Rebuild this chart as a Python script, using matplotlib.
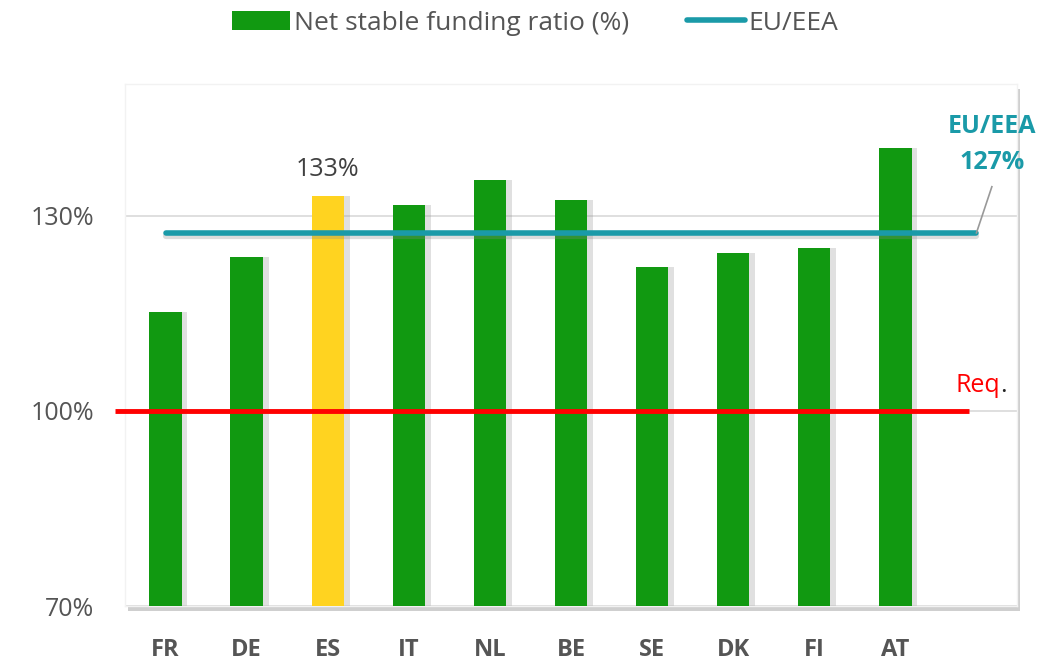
import matplotlib
matplotlib.use("Agg")
import matplotlib.pyplot as plt
from matplotlib.patches import Rectangle
from matplotlib.lines import Line2D
from matplotlib.patches import Patch

plt.rcParams['font.family'] = ['Open Sans', 'DejaVu Sans']

countries = ["FR", "DE", "ES", "IT", "NL", "BE", "SE", "DK", "FI", "AT"]
nsfr = [115.2, 123.7, 133.1, 131.7, 135.5, 132.5, 122.2, 124.3, 125.1, 140.5]
eu_eea = 127.4
requirement = 100
yticks = [70, 100, 130]
ytick_labels = ["70%", "100%", "130%"]

GREEN = "#119911"
YELLOW = "#FFD320"
RED = "#FF0000"
TEAL = "#1A9AA8"
GREY = "#555555"

fig = plt.figure(figsize=(10.59, 6.63), dpi=100)
ax = fig.add_axes([125/1059, 57/663, 892/1059, 522/663])

# plot-area shadow
fig.patches.append(Rectangle((128/1059, 52/663), 892/1059, 522/663, transform=fig.transFigure,
                             facecolor="#b0b0b0", edgecolor="none", alpha=0.6, zorder=-1))

x = list(range(len(countries)))
colors = [YELLOW if c == "ES" else GREEN for c in countries]
# bar shadows
ax.bar([i + 0.07 for i in x], [v - 70 for v in nsfr], bottom=70, width=0.4, color="#999999",
       alpha=0.3, zorder=2, linewidth=0)
ax.bar(x, [v - 70 for v in nsfr], bottom=70, width=0.4, color=colors, zorder=3, linewidth=0)

ax.set_xlim(-0.5, 10.5)
ax.set_ylim(70, 150.3)
ax.set_yticks(yticks)
ax.set_yticklabels(ytick_labels, fontsize=18, color=GREY)
ax.set_xticks(x)
ax.set_xticklabels(countries, fontsize=17, fontweight="bold", color=GREY)
ax.tick_params(axis="both", length=0)
ax.tick_params(axis="x", pad=23)
ax.tick_params(axis="y", pad=22)
ax.grid(axis="y", color="#d9d9d9", linewidth=1.2, zorder=1)
ax.set_axisbelow(True)
for s in ax.spines.values():
    s.set_color("#f2f2f2")
    s.set_linewidth(1)

# requirement line
ax.plot([-0.62, 9.91], [requirement, requirement], color=RED, linewidth=3.5, zorder=5,
        solid_capstyle="butt", clip_on=False)
req = ax.text(9.74, requirement + 2.0, "Req", color=RED, fontsize=18, ha="left", va="bottom", zorder=6)
fig.canvas.draw()
bb = req.get_window_extent(renderer=fig.canvas.get_renderer())
xr, _ = ax.transData.inverted().transform((bb.x1, bb.y0))
ax.text(xr, requirement + 2.0, ".", color="#222222", fontsize=18, ha="left", va="bottom", zorder=6)

# EU/EEA line
ax.plot([0.0, 10.0], [eu_eea - 0.5, eu_eea - 0.5], color="#888888", alpha=0.3, linewidth=4.5, zorder=4,
        solid_capstyle="round")
ax.plot([0.0, 10.0], [eu_eea, eu_eea], color=TEAL, linewidth=4, zorder=5, solid_capstyle="round")
ax.plot([10.0, 10.19], [eu_eea, 134.5], color="#999999", linewidth=1.2, zorder=5, clip_on=False)
ax.text(10.19, 143.7, "EU/EEA", color=TEAL, fontsize=18, fontweight="bold", ha="center", va="center",
        zorder=6, clip_on=False)
ax.text(10.19, 138.2, "127%", color=TEAL, fontsize=18, fontweight="bold", ha="center", va="center",
        zorder=6, clip_on=False)

# ES label
ax.text(2, nsfr[2] + 2.2, "133%", color="#404040", fontsize=18, ha="center", va="bottom", zorder=6)

handles = [Patch(facecolor=GREEN, edgecolor="none"),
           Line2D([0], [0], color=TEAL, linewidth=4, solid_capstyle="round")]
leg = fig.legend(handles, ["Net stable funding ratio (%)", "EU/EEA"], loc="center",
                 bbox_to_anchor=(535/1059, 1 - 23/663), ncol=2, frameon=False, fontsize=19,
                 handlelength=2.2, handletextpad=0.15, columnspacing=2.2, labelcolor=GREY)

fig.savefig("out.png", dpi=100)
